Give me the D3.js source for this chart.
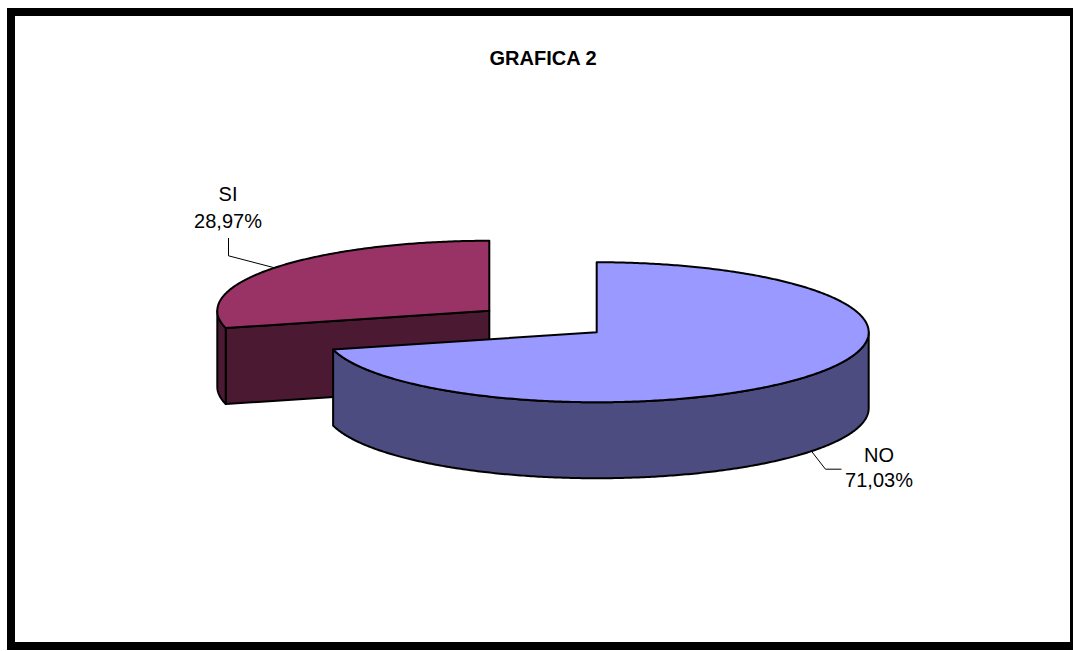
<!DOCTYPE html>
<html>
<head>
<meta charset="utf-8">
<script src="https://cdn.jsdelivr.net/npm/d3@7"></script>
<style>
  html, body { margin: 0; padding: 0; background: #fff; }
  svg { display: block; font-family: "Liberation Sans", Arial, sans-serif; }
</style>
</head>
<body>
<svg id="chart" width="1073" height="651"></svg>
<script>
// Chart data
const title = "GRAFICA 2";
const categories = ["NO", "SI"];
const values = [71.03, 28.97];
const labels = ["71,03%", "28,97%"];
const topColors = ["#9999FF", "#993366"];
const sideColors = ["#4C4C80", "#4C1933"];

const svg = d3.select("#chart");

// Frame
svg.append("rect")
  .attr("x", 11).attr("y", 12)
  .attr("width", 1063).attr("height", 634)
  .attr("fill", "#fff").attr("stroke", "#000").attr("stroke-width", 8);

// Title
svg.append("text")
  .attr("x", 543).attr("y", 65)
  .attr("text-anchor", "middle")
  .attr("font-size", 20).attr("font-weight", "bold")
  .text(title);

// 3D pie geometry
const cx = 543, cy = 321.5, rx = 272, ry = 70, depth = 76, explode = 0.25;
const pie = d3.pie().sort(null).startAngle(0).endAngle(2 * Math.PI).value(d => d);
const arcs = pie(values);

const line = d3.line();
const proj = (ox, oy, a, z) => [ox + rx * Math.sin(a), oy - ry * Math.cos(a) + z];
const sample = (ox, oy, a0, a1, z) => {
  const n = Math.max(2, Math.ceil(Math.abs(a1 - a0) / 0.01));
  return d3.range(n + 1).map(i => proj(ox, oy, a0 + (a1 - a0) * i / n, z));
};

const slices = arcs.map((a, i) => {
  const mid = (a.startAngle + a.endAngle) / 2;
  return {
    i, a0: a.startAngle, a1: a.endAngle, mid,
    ox: cx + explode * rx * Math.sin(mid),
    oy: cy - explode * ry * Math.cos(mid)
  };
});

// Draw back slice (SI) first, then the front slice (NO)
const order = [1, 0];
const stroke = { stroke: "#000", "stroke-width": 2, "stroke-linejoin": "round" };
function styled(sel, fill) {
  sel.attr("fill", fill);
  Object.entries(stroke).forEach(([k, v]) => sel.attr(k, v));
  return sel;
}

order.forEach(idx => {
  const s = slices[idx];
  const g = svg.append("g");
  // Radial face at the start angle, visible when it faces the viewer
  const faceNormalFront = -Math.sin(s.a0) > 0 || Math.cos(s.a0) < 0;
  if (s.a0 > Math.PI) {
    const pts = [
      [s.ox, s.oy], proj(s.ox, s.oy, s.a0, 0),
      proj(s.ox, s.oy, s.a0, depth), [s.ox, s.oy + depth]
    ];
    styled(g.append("path").attr("d", line(pts) + "Z"), sideColors[idx]);
  }
  // Outer wall, front half only
  const lo = Math.max(s.a0, Math.PI / 2), hi = Math.min(s.a1, 3 * Math.PI / 2);
  if (hi > lo) {
    const pts = sample(s.ox, s.oy, lo, hi, 0).concat(sample(s.ox, s.oy, hi, lo, depth));
    styled(g.append("path").attr("d", line(pts) + "Z"), sideColors[idx]);
  }
  // Top face
  const top = [[s.ox, s.oy]].concat(sample(s.ox, s.oy, s.a0, s.a1, 0));
  styled(g.append("path").attr("d", line(top) + "Z"), topColors[idx]);
});

// Data labels with leader lines
const lbl = svg.append("g").attr("font-size", 20).attr("text-anchor", "middle");
const no = slices[0], si = slices[1];

const noAnchor = proj(no.ox, no.oy, no.mid, depth);
svg.append("path")
  .attr("d", line([noAnchor, [noAnchor[0] + 14, noAnchor[1] + 18], [noAnchor[0] + 30, noAnchor[1] + 18]]))
  .attr("fill", "none").attr("stroke", "#000").attr("stroke-width", 1);
lbl.append("text").attr("x", 879).attr("y", 462).text(categories[0]);
lbl.append("text").attr("x", 879).attr("y", 487).text(labels[0]);

const siAnchor = proj(si.ox, si.oy, si.mid, 0);
svg.append("path")
  .attr("d", line([siAnchor, [228.5, siAnchor[1] - 12], [228.5, 238]]))
  .attr("fill", "none").attr("stroke", "#000").attr("stroke-width", 1);
lbl.append("text").attr("x", 228).attr("y", 201).text(categories[1]);
lbl.append("text").attr("x", 228).attr("y", 228).text(labels[1]);
</script>
</body>
</html>
